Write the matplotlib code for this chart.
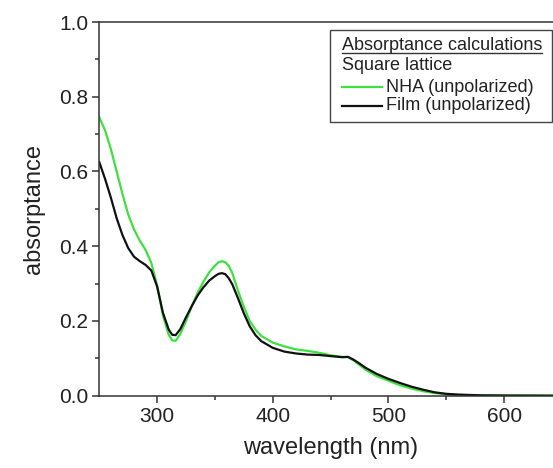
import matplotlib
matplotlib.use("Agg")
import matplotlib.pyplot as plt
from matplotlib.lines import Line2D
from matplotlib.patches import Rectangle

plt.rcParams["font.family"] = ["Liberation Sans", "DejaVu Sans"]

wavelength = [250, 255, 260, 265, 270, 275, 280, 285, 290, 295, 300, 305, 310, 313, 316,
              320, 325, 330, 335, 340, 345, 350, 353, 356, 359, 362, 365, 370, 375, 380, 385,
              390, 400, 410, 420, 430, 440, 450, 460, 465, 470, 475, 480, 490, 500,
              510, 520, 530, 540, 550, 560, 580, 600, 650]
nha = [0.745, 0.71, 0.66, 0.60, 0.54, 0.485, 0.445, 0.415, 0.39, 0.355, 0.295, 0.215, 0.163, 0.148, 0.147,
       0.165, 0.20, 0.24, 0.275, 0.305, 0.33, 0.348, 0.357, 0.36, 0.357, 0.347, 0.328, 0.28, 0.238, 0.20, 0.177,
       0.16, 0.142, 0.132, 0.124, 0.12, 0.115, 0.108, 0.104, 0.103, 0.094, 0.082, 0.07, 0.052, 0.04,
       0.028, 0.019, 0.012, 0.007, 0.004, 0.002, 0.001, 0.0005, 0.0]
film = [0.625, 0.58, 0.53, 0.475, 0.43, 0.395, 0.372, 0.36, 0.35, 0.335, 0.292, 0.222, 0.177, 0.163, 0.162,
        0.178, 0.21, 0.24, 0.268, 0.29, 0.308, 0.32, 0.326, 0.328, 0.325, 0.314, 0.298, 0.26, 0.22, 0.186, 0.162,
        0.146, 0.128, 0.118, 0.113, 0.11, 0.109, 0.106, 0.103, 0.104, 0.096, 0.086, 0.075, 0.058, 0.045,
        0.034, 0.024, 0.016, 0.009, 0.005, 0.003, 0.001, 0.0005, 0.0]

legend_title = "Absorptance calculations"
legend_subtitle = "Square lattice"
series_labels = ["NHA (unpolarized)", "Film (unpolarized)"]
series_colors = ["#3ee03e", "#111111"]

W, H = 553, 468
fig = plt.figure(figsize=(W / 100, H / 100), dpi=100)
# axes extends past the right edge of the image, like the cropped original
ax = fig.add_axes([99.3 / W, 1 - 395.7 / H, (562 - 99.3) / W, (395.7 - 22) / H])

ax.plot(wavelength, film, color=series_colors[1], lw=1.6)
ax.plot(wavelength, nha, color=series_colors[0], lw=1.6, zorder=1)

ax.set_xlim(250, 650)
ax.set_ylim(0, 1.0)
ax.set_xticks([300, 400, 500, 600])
ax.set_xticks([350, 450, 550, 650], minor=True)
ax.set_yticks([0.0, 0.2, 0.4, 0.6, 0.8, 1.0])
ax.set_yticks([0.1, 0.3, 0.5, 0.7, 0.9], minor=True)
ax.yaxis.set_major_formatter(matplotlib.ticker.FormatStrFormatter("%.1f"))
ax.tick_params(which="major", direction="out", length=5, width=1.1, labelsize=15, pad=3,
               color="#333333", labelcolor="#222222")
ax.tick_params(which="minor", direction="out", length=3, width=1.1, color="#333333")
for sp in ax.spines.values():
    sp.set_linewidth(1.1)
    sp.set_color("#333333")

ax.set_xlabel("wavelength (nm)", fontsize=17, labelpad=8, color="#222222")
ax.set_ylabel("absorptance", fontsize=17, labelpad=10, color="#222222")

# hand-built legend box
def fx(px):
    return px / W


def fy(py):
    return 1 - py / H


fig.patches.append(Rectangle((fx(330), fy(122)), fx(552) - fx(330), fy(30) - fy(122),
                             transform=fig.transFigure, fill=False, lw=1.0, ec="#444444"))
t = fig.text(fx(342), fy(45), legend_title, fontsize=13, va="center", ha="left", color="#222222")
fig.canvas.draw()
bb = t.get_window_extent()
fig.lines.append(Line2D([bb.x0 / W, bb.x1 / W], [fy(53), fy(53)], transform=fig.transFigure,
                        color="#333333", lw=1.0))
fig.text(fx(342), fy(66), legend_subtitle, fontsize=13, va="center", ha="left", color="#222222")
for i, (label, color) in enumerate(zip(series_labels, series_colors)):
    y = fy(87 + 19 * i)
    fig.lines.append(Line2D([fx(342), fx(382)], [y, y], transform=fig.transFigure, color=color, lw=1.6))
    fig.text(fx(386), y, label, fontsize=13, va="center", ha="left", color="#222222")

fig.savefig("out.png", dpi=100)
